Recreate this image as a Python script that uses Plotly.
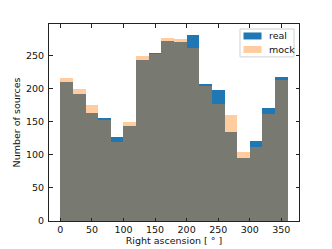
import plotly.graph_objects as go

# Histogram of right ascension, 18 bins of 20 degrees
bin_left = [0, 20, 40, 60, 80, 100, 120, 140, 160, 180, 200, 220, 240, 260, 280, 300, 320, 340]
bin_width = 20
real_counts = [211, 192, 164, 156, 127, 143, 243, 254, 272, 271, 282, 208, 198, 135, 95, 121, 171, 218]
mock_counts = [216, 200, 175, 153, 120, 150, 250, 252, 277, 275, 262, 204, 177, 161, 105, 112, 162, 213]

x_ticks = [0, 50, 100, 150, 200, 250, 300, 350]
y_ticks = [0, 50, 100, 150, 200, 250]

REAL_COLOUR = "#1f77b4"
MOCK_COLOUR = "rgba(255,127,14,0.4)"
FONT = "DejaVu Sans"
FS = 9.5

# page has an 8px body margin, so the figure is shifted; work in screen px
OFF = 8
W, H = 332, 249
X0, X1, Y0, Y1 = 49, 299, 24, 221.5  # axes box on screen
L, T = X0 - OFF, Y0 - OFF
R = W - (X1 - OFF)
B = H - (Y1 - OFF)
PW, PH = X1 - X0, Y1 - Y0


def px(x):
    return (x - X0) / PW


def py(y):
    return (Y1 - y) / PH


centers = [b + bin_width / 2 for b in bin_left]

fig = go.Figure()
fig.add_trace(
    go.Bar(
        x=centers,
        y=real_counts,
        width=bin_width,
        name="real",
        marker=dict(color=REAL_COLOUR, line=dict(width=0)),
        showlegend=False,
    )
)
fig.add_trace(
    go.Bar(
        x=centers,
        y=mock_counts,
        width=bin_width,
        name="mock",
        marker=dict(color=MOCK_COLOUR, line=dict(width=0)),
        showlegend=False,
    )
)

axis_common = dict(
    showline=True,
    linecolor="#222",
    linewidth=1,
    mirror="allticks",
    ticks="inside",
    ticklen=3.5,
    tickwidth=0.8,
    tickcolor="#222",
    showgrid=False,
    zeroline=False,
    automargin=False,
    tickfont=dict(family=FONT, size=FS, color="#111"),
)

# legend box drawn by hand, matplotlib style
shapes = [
    dict(type="rect", xref="paper", yref="paper",
         x0=px(240), x1=px(294), y0=py(57), y1=py(29),
         line=dict(color="#d0d0d0", width=1), fillcolor="rgba(255,255,255,0.8)"),
    dict(type="rect", xref="paper", yref="paper",
         x0=px(243.5), x1=px(261.5), y0=py(39.5), y1=py(32.5),
         line=dict(width=0), fillcolor=REAL_COLOUR),
    dict(type="rect", xref="paper", yref="paper",
         x0=px(243.5), x1=px(261.5), y0=py(53), y1=py(46),
         line=dict(width=0), fillcolor=MOCK_COLOUR),
]
annotations = [
    dict(text="real", xref="paper", yref="paper", x=px(267), y=py(36),
         xanchor="left", yanchor="middle", showarrow=False,
         font=dict(family=FONT, size=FS, color="#111")),
    dict(text="mock", xref="paper", yref="paper", x=px(267), y=py(49.5),
         xanchor="left", yanchor="middle", showarrow=False,
         font=dict(family=FONT, size=FS, color="#111")),
]

fig.update_layout(
    barmode="overlay",
    bargap=0,
    width=W,
    height=H,
    margin=dict(l=L, r=R, t=T, b=B),
    paper_bgcolor="white",
    plot_bgcolor="white",
    font=dict(family=FONT, size=FS, color="#111"),
    showlegend=False,
    shapes=shapes,
    annotations=annotations,
    xaxis=dict(
        axis_common,
        range=[-18, 378],
        tickvals=x_ticks,
        ticklabelstandoff=0,
        title=dict(text="Right ascension [ ° ]", font=dict(size=FS), standoff=2),
    ),
    yaxis=dict(
        axis_common,
        range=[0, 298],
        tickvals=y_ticks,
        ticklabelstandoff=2,
        title=dict(text="Number of sources", font=dict(size=FS), standoff=3),
    ),
)

fig.write_html("out.html")
